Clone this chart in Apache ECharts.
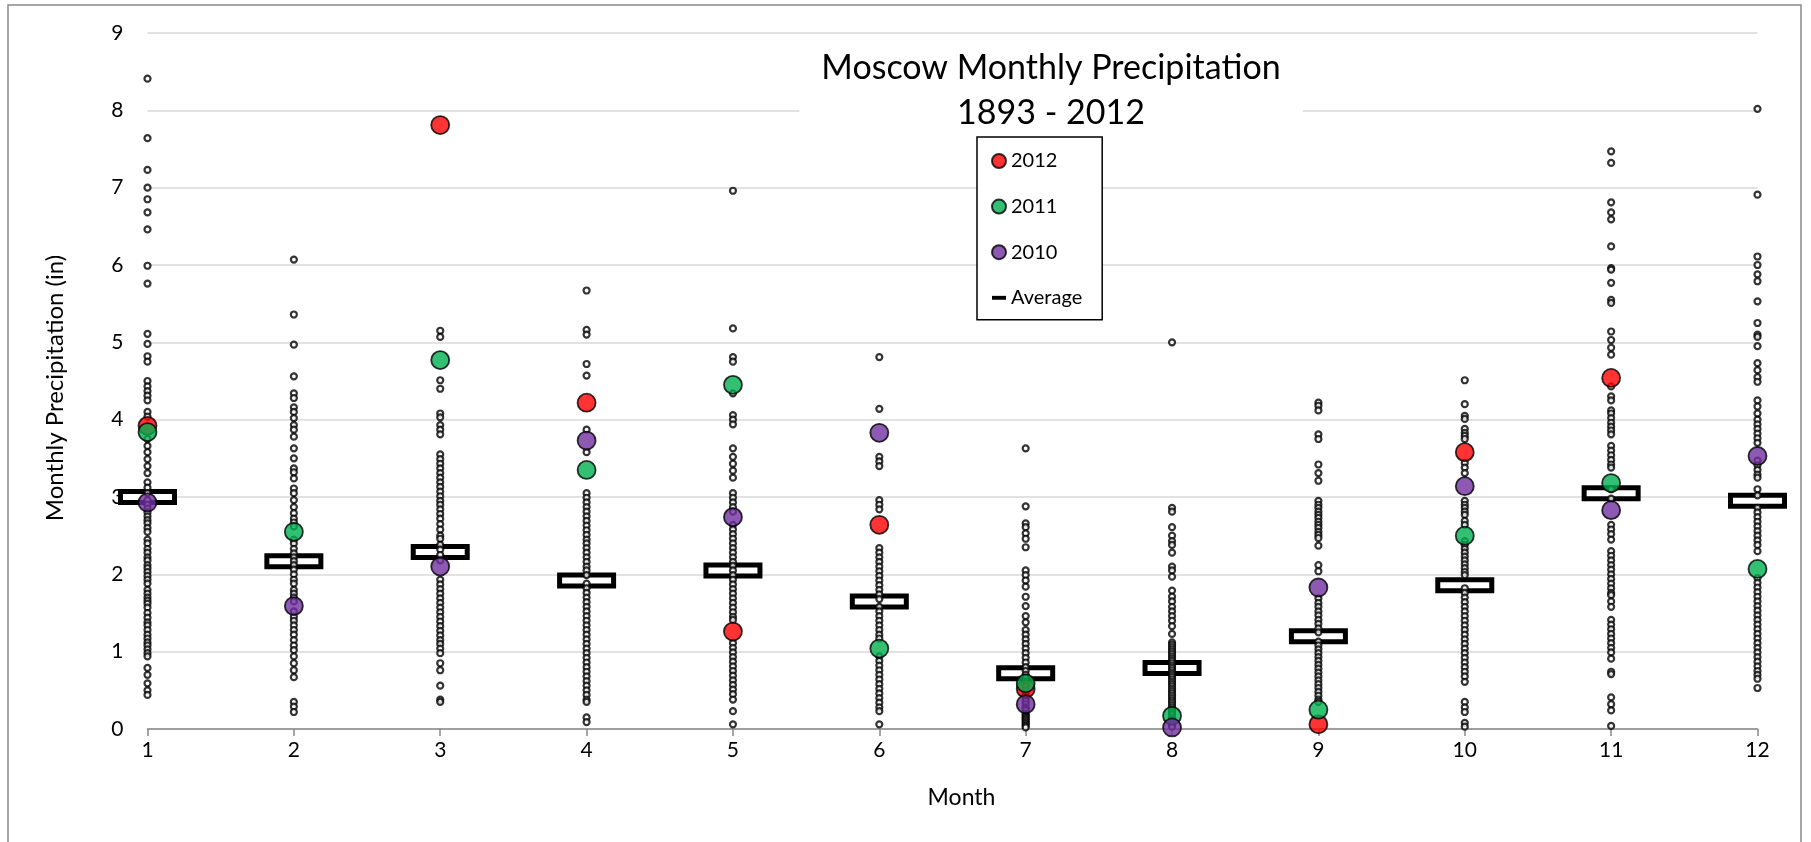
<!DOCTYPE html>
<html>
<head>
<meta charset="utf-8">
<script src="https://cdn.jsdelivr.net/npm/echarts@6/dist/echarts.min.js"></script>
<style>
html,body{margin:0;padding:0;background:#fff;}
#chart{width:1811px;height:842px;}
</style>
</head>
<body>
<div id="chart"></div>
<script>
// ---- data ----
const months = [1,2,3,4,5,6,7,8,9,10,11,12];
const yTicks = [0,1,2,3,4,5,6,7,8,9];

// all years 1893-2012 (dense parts approximated)
const jan = [8.41,7.64,7.23,7.00,6.85,6.68,6.46,5.99,5.76,5.11,4.98,4.82,4.75,4.50,4.43,4.37,4.31,4.25,4.10,4.04,3.75,3.66,3.58,3.49,3.40,3.31,3.19,3.12,3.05,2.96,2.90,2.85,2.80,2.75,2.70,2.66,2.60,2.55,2.45,2.40,2.33,2.28,2.22,2.18,2.12,2.08,2.03,1.98,1.93,1.88,1.80,1.75,1.70,1.66,1.62,1.57,1.50,1.44,1.38,1.34,1.28,1.22,1.17,1.12,1.08,1.03,0.98,0.94,0.79,0.70,0.59,0.50,0.44];
const feb = [6.07,5.36,4.97,4.56,4.34,4.28,4.16,4.10,4.02,3.93,3.87,3.78,3.63,3.50,3.37,3.32,3.24,3.11,3.05,2.96,2.87,2.79,2.72,2.67,2.62,2.45,2.40,2.33,2.27,2.22,2.17,2.12,2.06,2.00,1.93,1.88,1.80,1.75,1.70,1.65,1.52,1.45,1.40,1.34,1.28,1.22,1.15,1.08,1.02,0.94,0.85,0.76,0.67,0.35,0.29,0.22];
const mar = [5.15,5.07,4.51,4.40,4.08,4.03,3.93,3.87,3.81,3.55,3.49,3.43,3.37,3.31,3.25,3.19,3.13,3.07,3.01,2.95,2.90,2.84,2.78,2.72,2.65,2.58,2.50,2.46,2.38,2.32,2.25,2.18,1.93,1.87,1.81,1.75,1.69,1.63,1.57,1.51,1.45,1.39,1.33,1.27,1.21,1.15,1.10,1.04,0.98,0.85,0.76,0.56,0.38,0.35];
const apr = [5.67,5.16,5.10,4.72,4.57,3.87,3.58,3.05,2.99,2.93,2.87,2.81,2.75,2.69,2.63,2.57,2.51,2.45,2.40,2.34,2.28,2.22,2.16,2.10,2.05,1.99,1.88,1.82,1.76,1.70,1.64,1.58,1.52,1.46,1.40,1.34,1.28,1.22,1.16,1.10,1.04,0.98,0.92,0.86,0.80,0.74,0.68,0.62,0.56,0.50,0.44,0.38,0.35,0.15,0.09];
const may = [6.96,5.18,4.81,4.75,4.34,4.06,4.00,3.94,3.63,3.52,3.43,3.34,3.25,3.05,2.99,2.93,2.87,2.81,2.64,2.58,2.52,2.46,2.40,2.34,2.28,2.22,2.16,2.11,2.05,1.99,1.93,1.87,1.81,1.75,1.69,1.63,1.57,1.51,1.45,1.41,1.11,1.05,0.99,0.93,0.87,0.81,0.75,0.69,0.63,0.57,0.51,0.45,0.38,0.23,0.06];
const jun = [4.81,4.14,3.52,3.46,3.40,2.96,2.90,2.84,2.34,2.28,2.22,2.16,2.10,2.04,1.98,1.92,1.86,1.80,1.74,1.68,1.58,1.52,1.46,1.40,1.34,1.28,1.22,1.17,0.94,0.88,0.82,0.76,0.70,0.64,0.58,0.52,0.46,0.40,0.34,0.28,0.23,0.06];
const jul = [3.63,2.88,2.66,2.61,2.53,2.46,2.35,2.05,1.99,1.92,1.84,1.71,1.59,1.46,1.38,1.28,1.22,1.16,1.10,1.04,0.98,0.92,0.86,0.80,0.75,0.70,0.66,0.62,0.58,0.55,0.50,0.45,0.42,0.40,0.36,0.32,0.28,0.26,0.24,0.20,0.18,0.16,0.14,0.12,0.10,0.08,0.06,0.04,0.02];
const aug = [5.00,2.86,2.81,2.61,2.50,2.43,2.38,2.28,2.10,2.05,1.97,1.79,1.71,1.65,1.58,1.52,1.46,1.40,1.33,1.23,1.12,1.09,1.06,1.03,1.00,0.97,0.94,0.91,0.88,0.85,0.82,0.79,0.76,0.73,0.70,0.67,0.64,0.61,0.58,0.55,0.52,0.49,0.46,0.43,0.40,0.37,0.34,0.31,0.28,0.25,0.22,0.19,0.15,0.12,0.09,0.06,0.03];
const sep = [4.22,4.18,4.12,3.81,3.75,3.42,3.31,3.21,2.95,2.90,2.86,2.81,2.77,2.73,2.68,2.64,2.60,2.55,2.51,2.47,2.37,2.12,2.04,1.69,1.63,1.58,1.52,1.47,1.41,1.36,1.30,1.25,1.13,1.08,1.03,0.98,0.93,0.88,0.83,0.78,0.73,0.68,0.63,0.58,0.53,0.48,0.43,0.38,0.35];
const oct = [4.51,4.20,4.05,4.01,3.88,3.83,3.79,3.75,3.44,3.38,3.31,2.95,2.90,2.86,2.81,2.77,2.69,2.64,2.43,2.38,2.33,2.28,2.23,2.18,2.13,2.08,2.03,1.99,1.82,1.76,1.70,1.64,1.58,1.52,1.46,1.40,1.34,1.28,1.22,1.16,1.10,1.04,0.98,0.92,0.86,0.80,0.74,0.68,0.61,0.35,0.28,0.22,0.08,0.03];
const nov = [7.47,7.32,6.81,6.68,6.59,6.24,5.96,5.94,5.77,5.55,5.51,5.14,5.03,4.93,4.84,4.43,4.30,4.25,4.12,4.08,4.02,3.96,3.91,3.86,3.81,3.66,3.60,3.54,3.48,3.42,3.38,3.10,2.98,2.64,2.58,2.52,2.45,2.30,2.24,2.18,2.12,2.06,2.00,1.94,1.88,1.82,1.76,1.73,1.65,1.58,1.41,1.35,1.29,1.23,1.17,1.11,1.05,0.99,0.91,0.74,0.71,0.41,0.32,0.24,0.04];
const dec = [8.02,6.91,6.11,6.00,5.88,5.79,5.53,5.25,5.10,5.07,4.95,4.73,4.64,4.55,4.49,4.25,4.17,4.08,4.00,3.94,3.88,3.82,3.76,3.70,3.47,3.41,3.35,3.29,3.25,3.10,3.02,2.86,2.80,2.74,2.68,2.62,2.56,2.50,2.44,2.38,2.30,1.95,1.89,1.83,1.77,1.71,1.65,1.59,1.53,1.47,1.41,1.35,1.29,1.23,1.17,1.11,1.05,0.99,0.93,0.87,0.81,0.75,0.70,0.65,0.53];
const allYears = [jan,feb,mar,apr,may,jun,jul,aug,sep,oct,nov,dec];

const y2012 = [3.92,null,7.81,4.22,1.26,2.64,0.52,null,0.06,3.58,4.54,null];
const y2011 = [3.84,2.55,4.77,3.35,4.45,1.04,0.59,0.17,0.25,2.50,3.18,2.07];
const y2010 = [2.93,1.59,2.10,3.73,2.74,3.83,0.32,0.02,1.83,3.14,2.83,3.53];
const average = [3.00,2.17,2.29,1.92,2.05,1.65,0.72,0.79,1.20,1.86,3.05,2.95];

const toPairs = arr => months.map((m,i)=>[m,arr[i]]).filter(p=>p[1]!==null);
const dots = [];
allYears.forEach((vals,i)=>vals.forEach(v=>dots.push([months[i],v])));

const FONT = 'Lato';
const AVG_W = 54, AVG_H = 11, AVG_BW = 5;
const chart = echarts.init(document.getElementById('chart'));
chart.setOption({
  animation:false,
  backgroundColor:'#fff',
  textStyle:{fontFamily:FONT},
  title:{
    text:'Moscow Monthly Precipitation\n1893 - 2012',
    left:1029, top:42, textAlign:'center',
    backgroundColor:'#fff',
    padding:[4,22,0,22],
    textStyle:{fontFamily:FONT,fontSize:34,fontWeight:'normal',color:'#000',lineHeight:45,align:'center'}
  },
  legend:{
    orient:'vertical', left:977, top:137,
    padding:[14,20,12,14],
    itemGap:25.6, itemWidth:14, itemHeight:14,
    backgroundColor:'#fff', borderColor:'#000', borderWidth:1.5, borderRadius:0,
    textStyle:{fontFamily:FONT,fontSize:20,color:'#000'},
    z:10,
    data:[
      {name:'2012',icon:'circle'},
      {name:'2011',icon:'circle'},
      {name:'2010',icon:'circle'},
      {name:'Average',icon:'path://M0,0 L18,0 L18,5 L0,5 Z',itemStyle:{color:'#000',borderWidth:0}}
    ]
  },
  grid:{left:147.5, right:53.5, top:33, bottom:113, containLabel:false},
  xAxis:{
    type:'value', min:1, max:12, interval:1,
    name:'Month', nameLocation:'middle', nameGap:57,
    nameTextStyle:{fontFamily:FONT,fontSize:23,color:'#000',padding:[0,0,0,18]},
    axisLine:{lineStyle:{color:'#898989',width:1.5}},
    axisTick:{show:true,length:7,lineStyle:{color:'#898989',width:1.5}},
    axisLabel:{fontFamily:FONT,fontSize:21,color:'#000',margin:11},
    splitLine:{show:false}
  },
  yAxis:{
    type:'value', min:0, max:9, interval:1,
    name:'Monthly Precipitation (in)', nameLocation:'middle', nameGap:80, nameRotate:90,
    nameTextStyle:{fontFamily:FONT,fontSize:24,color:'#000',padding:[0,14,0,0]},
    axisLine:{show:false}, axisTick:{show:false},
    axisLabel:{fontFamily:FONT,fontSize:21,color:'#000',margin:24},
    splitLine:{lineStyle:{color:'#d9d9d9',width:1.5}}
  },
  series:[
    {name:'Average', type:'custom', data:toPairs(average), z:2,
     itemStyle:{color:'#000'},
     renderItem:(params, api) => {
       const p = api.coord([api.value(0), api.value(1)]);
       return {type:'rect',
         shape:{x:p[0]-AVG_W/2, y:p[1]-AVG_H/2, width:AVG_W, height:AVG_H},
         style:{fill:'#fff', stroke:'#000', lineWidth:AVG_BW}};
     }},
    {name:'All years', type:'scatter', data:dots, symbol:'circle', symbolSize:6,
     itemStyle:{color:'#fff',borderColor:'#000',borderWidth:2.2}, z:3},
    {name:'2012', type:'scatter', data:toPairs(y2012), symbol:'circle', symbolSize:18,
     itemStyle:{color:'#ff0000',borderColor:'#000',borderWidth:1.8}, z:4},
    {name:'2011', type:'scatter', data:toPairs(y2011), symbol:'circle', symbolSize:18,
     itemStyle:{color:'#00b050',borderColor:'#000',borderWidth:1.8}, z:5},
    {name:'2010', type:'scatter', data:toPairs(y2010), symbol:'circle', symbolSize:18,
     itemStyle:{color:'#7030a0',borderColor:'#000',borderWidth:1.8}, z:6}
  ],
  graphic:[
    {type:'rect', shape:{x:8,y:5,width:1793,height:850}, style:{fill:'none',stroke:'#898989',lineWidth:1.5}, z:100, silent:true}
  ]
});
</script>
</body>
</html>
